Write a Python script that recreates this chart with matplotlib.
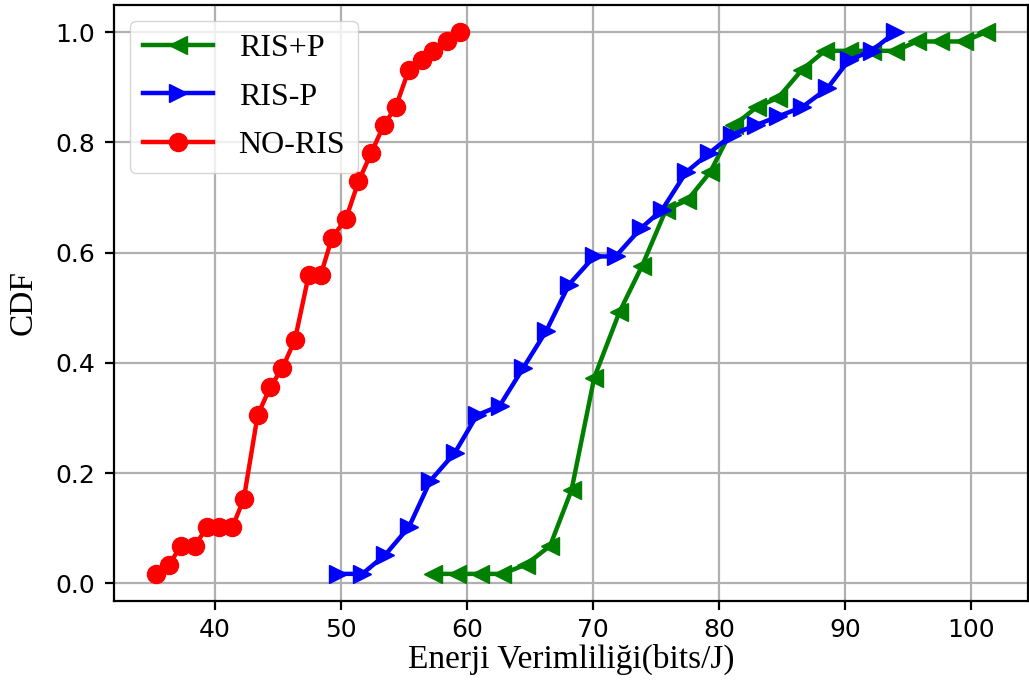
import matplotlib
matplotlib.use('Agg')
import matplotlib.pyplot as plt

# energy efficiency values (bits/J)
x_ris_p = [57.3, 59.2, 61.0, 62.8, 64.7, 66.6, 68.3, 70.1, 72.1, 73.9, 75.8, 77.5, 79.3,
           81.2, 83.0, 84.7, 86.6, 88.4, 90.3, 92.1, 94.0, 95.7, 97.5, 99.4, 101.2]
x_ris_np = [49.8, 51.7, 53.5, 55.4, 57.1, 59.05, 60.8, 62.6, 64.45, 66.3, 68.1, 70.1, 71.8,
            73.8, 75.5, 77.4, 79.2, 81.05, 82.9, 84.7, 86.6, 88.6, 90.3, 92.1, 94.0]
x_no_ris = [35.3, 36.4, 37.3, 38.4, 39.4, 40.3, 41.4, 42.3, 43.4, 44.4, 45.35, 46.35, 47.45,
            48.4, 49.3, 50.4, 51.4, 52.4, 53.4, 54.35, 55.4, 56.4, 57.3, 58.4, 59.45]

# CDF values
cdf_ris_p = [0.017, 0.017, 0.017, 0.017, 0.034, 0.068, 0.169, 0.373, 0.492, 0.576, 0.678, 0.695, 0.746,
             0.831, 0.864, 0.881, 0.932, 0.966, 0.966, 0.966, 0.966, 0.983, 0.983, 0.983, 1.0]
cdf_ris_np = [0.017, 0.017, 0.051, 0.102, 0.186, 0.237, 0.305, 0.322, 0.390, 0.458, 0.542, 0.593, 0.593,
              0.644, 0.678, 0.746, 0.780, 0.814, 0.831, 0.847, 0.864, 0.898, 0.949, 0.966, 1.0]
cdf_no_ris = [0.017, 0.034, 0.068, 0.068, 0.102, 0.102, 0.102, 0.153, 0.305, 0.356, 0.390, 0.441, 0.559,
              0.559, 0.627, 0.661, 0.729, 0.780, 0.831, 0.864, 0.932, 0.949, 0.966, 0.983, 1.0]

fig = plt.figure(figsize=(10.29, 6.95), dpi=100)
ax = fig.add_axes([0.1108, 0.1353, 0.888, 0.8575])

ax.plot(x_ris_p, cdf_ris_p, color='green', marker='<', markersize=13, linewidth=3.2, label='RIS+P')
ax.plot(x_ris_np, cdf_ris_np, color='blue', marker='>', markersize=13, linewidth=3.2, label='RIS-P')
ax.plot(x_no_ris, cdf_no_ris, color='red', marker='o', markersize=13, linewidth=3.2, label='NO-RIS')

ax.grid(True, color='#b0b0b0', linewidth=1.6)
ax.set_axisbelow(True)
for s in ax.spines.values():
    s.set_linewidth(1.6)
ax.tick_params(labelsize=18, length=6.5, width=1.6, pad=7)
ax.tick_params(axis='x', pad=6)
ax.set_xticks([40, 50, 60, 70, 80, 90, 100])
ax.set_yticks([0.0, 0.2, 0.4, 0.6, 0.8, 1.0])

ax.set_xlabel('Enerji Verimliliği(bits/J)', fontsize=24, family='Liberation Serif', labelpad=1)
ax.set_ylabel('CDF', fontsize=24, family='Liberation Serif', labelpad=12)
ax.legend(loc='upper left', prop={'family': 'Liberation Serif', 'size': 23},
          handlelength=2.2, labelspacing=0.6)

fig.savefig('out.png', dpi=100)
